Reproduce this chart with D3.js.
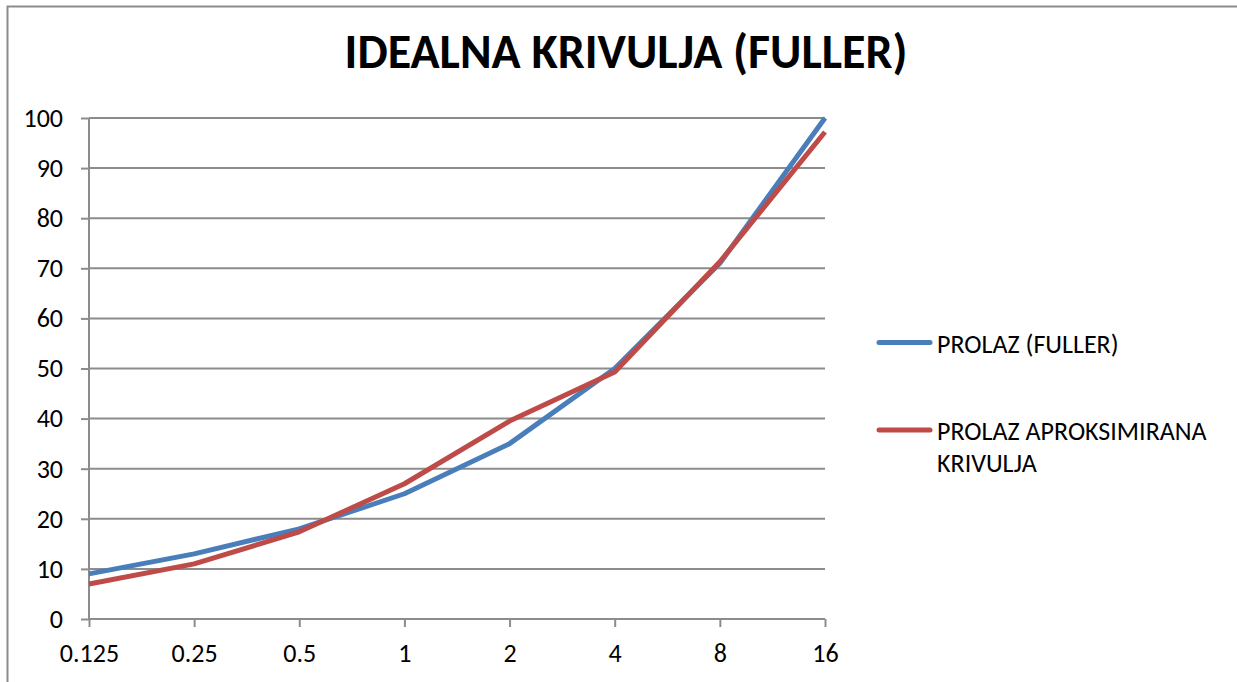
<!DOCTYPE html>
<html><head><meta charset="utf-8">
<script src="https://cdn.jsdelivr.net/npm/d3@7"></script>
<style>body{margin:0;background:#fff}svg{display:block}</style>
</head><body>
<svg id="c" width="1237" height="682"></svg>
<script>
const categories = ["0.125","0.25","0.5","1","2","4","8","16"];
const fuller = [9, 13, 18, 25, 35, 50, 71, 100];
const aproks = [7, 11, 17.4, 27, 39.5, 49.3, 71.3, 97.2];
const yTicks = [0,10,20,30,40,50,60,70,80,90,100];
const seriesNames = ["PROLAZ (FULLER)", "PROLAZ APROKSIMIRANA KRIVULJA"];
const colors = ["#4a7ebb", "#be4b48"];

const svg = d3.select("#c");
const font = "Carlito, 'Liberation Sans', Arial, sans-serif";
const L = 89, R = 825, T = 118, B = 619;

// outer border
svg.append("path").attr("d", "M7.5,682 L7.5,6.5 L1237,6.5").attr("fill","none").attr("stroke","#8c8c8c").attr("stroke-width",2);

svg.append("text").attr("x", 626).attr("y", 68).attr("text-anchor","middle")
  .attr("font-family", font).attr("font-weight","bold").attr("font-size", 48).attr("fill","#000")
  .text("IDEALNA KRIVULJA (FULLER)");

const x = d3.scalePoint().domain(categories).range([L, R]).padding(0);
const y = d3.scaleLinear().domain([0,100]).range([B, T]);

// gridlines
svg.append("g").selectAll("line").data(yTicks.filter(d=>d>0)).join("line")
  .attr("x1", L).attr("x2", R).attr("y1", d=>y(d)).attr("y2", d=>y(d))
  .attr("stroke","#8c8c8c").attr("stroke-width",2);

const yAxis = svg.append("g").attr("transform",`translate(${L},0)`)
  .call(d3.axisLeft(y).tickValues(yTicks).tickSize(8).tickPadding(18).tickFormat(d3.format("d")));
const xAxis = svg.append("g").attr("transform",`translate(0,${B})`)
  .call(d3.axisBottom(x).tickSize(8).tickPadding(12));
[yAxis, xAxis].forEach(g=>{
  g.selectAll("path,line").attr("stroke","#8c8c8c").attr("stroke-width",2);
  g.select(".domain").attr("d", g===yAxis ? `M0,${T}V${B}` : `M${L},0H${R}`);
  g.selectAll("text").attr("font-family", font).attr("font-size", 26).attr("fill","#000");
});
xAxis.selectAll("text").attr("y", 43).attr("dy", null);

const line = d3.line().x((d,i)=>x(categories[i])).y(d=>y(d));
[fuller, aproks].forEach((s,i)=>{
  svg.append("path").datum(s).attr("d", line).attr("fill","none")
    .attr("stroke", colors[i]).attr("stroke-width", 5).attr("stroke-linejoin","round");
});

// legend
const lg = svg.append("g");
const ly = [342.5, 430];
seriesNames.forEach((n,i)=>{
  lg.append("line").attr("x1",879).attr("x2",930).attr("y1",ly[i]).attr("y2",ly[i])
    .attr("stroke",colors[i]).attr("stroke-width",5).attr("stroke-linecap","round");
});
lg.append("text").attr("x",937).attr("y",353).attr("font-family",font).attr("font-size",26).text(seriesNames[0]);
const t2 = lg.append("text").attr("x",937).attr("y",440).attr("font-family",font).attr("font-size",26);
t2.append("tspan").attr("x",937).text("PROLAZ APROKSIMIRANA");
t2.append("tspan").attr("x",937).attr("dy",32).text("KRIVULJA");
</script>
</body></html>
